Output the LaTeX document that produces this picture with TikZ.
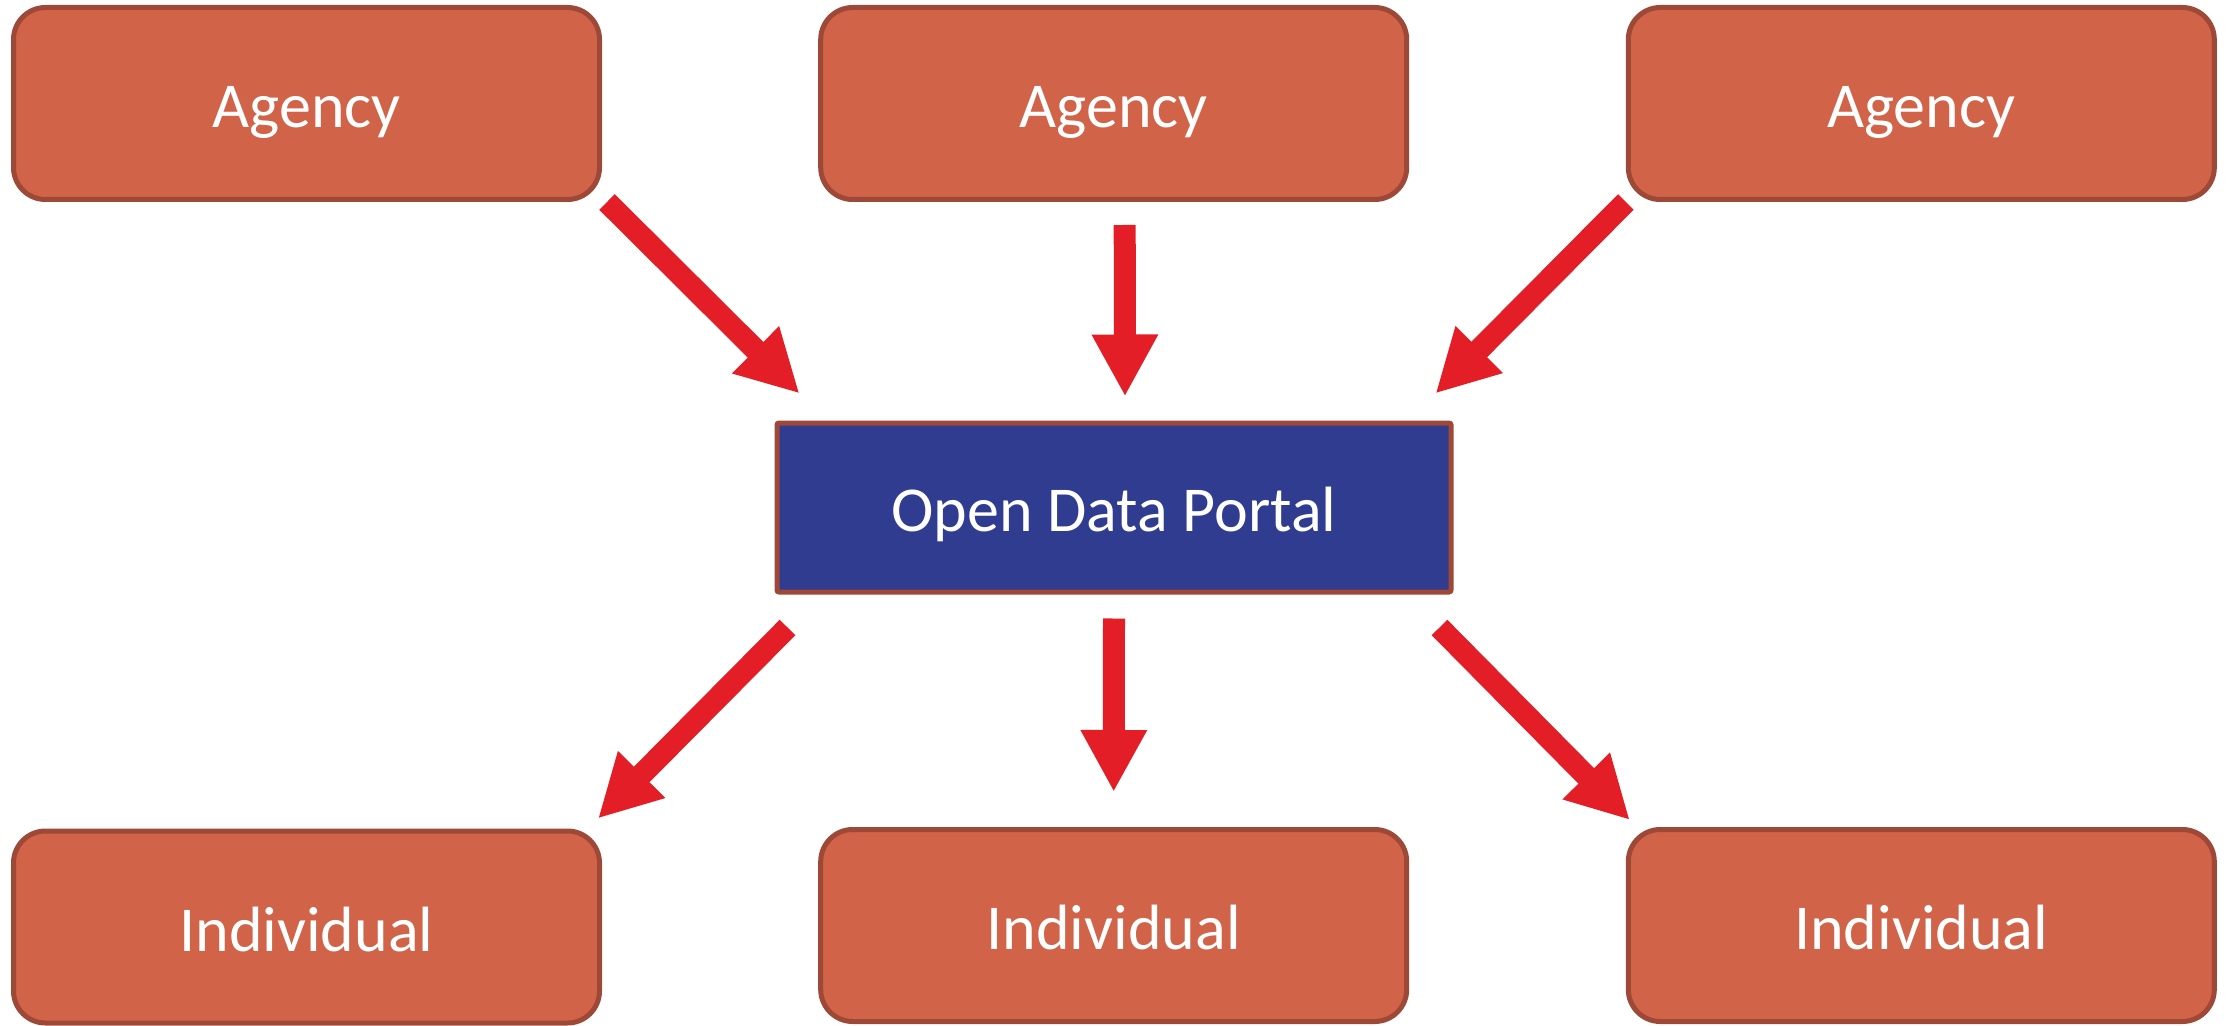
\documentclass[tikz,border=0pt]{standalone}
\usepackage{fontspec}
\setmainfont{Carlito}
\usetikzlibrary{arrows.meta,calc}
\definecolor{boxfill}{RGB}{209,99,73}
\definecolor{boxline}{RGB}{158,72,55}
\definecolor{portalfill}{RGB}{47,60,143}
\definecolor{arrred}{RGB}{227,30,38}
\tikzset{
  txt/.style={text=white, font=\fontsize{32}{37}\selectfont, text height=24pt, text depth=0pt},
  rbox/.style={txt, draw=boxline, line width=2.5pt, fill=boxfill, rounded corners=16pt,
    minimum width=293pt, minimum height=96pt, inner sep=0pt},
  pbox/.style={txt, draw=boxline, line width=2.5pt, fill=portalfill, rounded corners=1pt,
    minimum width=337pt, minimum height=84.5pt, inner sep=0pt},
  blockarr/.style={draw=arrred, line width=11pt,
    -{Triangle[width=31pt, length=31pt, fill=arrred]}}
}
\begin{document}
\begin{tikzpicture}[x=0.5pt, y=-0.5pt]
\useasboundingbox (0,0) rectangle (2226,1026);
\node[rbox] (a1) at (306.5,103.5) {Agency};
\node[rbox] (a2) at (1113.7,103.5) {Agency};
\node[rbox] (a3) at (1921.3,103.5) {Agency};
\node[pbox] (p) at (1114,507.5) {Open Data Portal};
\node[rbox] (i1) at (306.5,927) {Individual};
\node[rbox] (i2) at (1113.7,925.5) {Individual};
\node[rbox] (i3) at (1921.3,925.5) {Individual};
\draw[blockarr] ([shift={(5,0)}]a1.south east) -- ([shift={(25,-27)}]p.north west);
\draw[blockarr] ([shift={(11,23)}]a2.south) -- ([shift={(11,-24)}]p.north);
\draw[blockarr] ([shift={(0,0)}]a3.south west) -- ([shift={(-18,-27)}]p.north east);
\draw[blockarr] ([shift={(13,33)}]p.south west) -- ([shift={(-4,-10)}]i1.north east);
\draw[blockarr] ([shift={(0,24)}]p.south) -- ([shift={(0,-35)}]i2.north);
\draw[blockarr] ([shift={(-14,33)}]p.south east) -- ([shift={(4,-7)}]i3.north west);
\end{tikzpicture}
\end{document}
